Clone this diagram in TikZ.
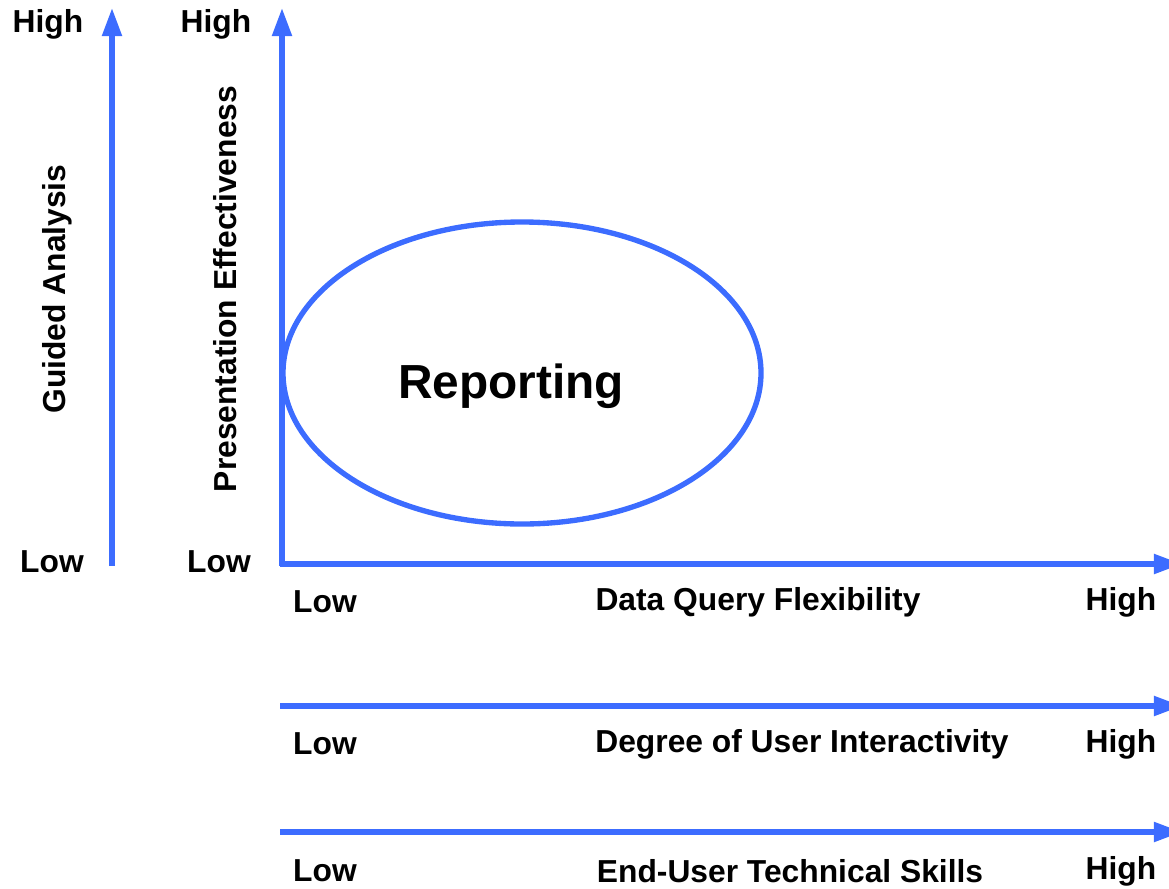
\documentclass[tikz,border=0pt]{standalone}
\usepackage{fontspec}
\setmainfont{Liberation Sans}
\usetikzlibrary{arrows.meta}
\definecolor{axisblue}{RGB}{60,108,255}

\begin{document}
\begin{tikzpicture}[x=0.025cm, y=-0.025cm,
        axis/.style={draw=axisblue, line width=3.8pt, -{Triangle[length=20pt,width=13.5pt]}},
        lbl/.style={inner sep=0pt, font=\fontsize{22.6}{26}\selectfont\bfseries},
        title/.style={inner sep=0pt, font=\fontsize{34}{40}\selectfont\bfseries}]
        \useasboundingbox (0,0) rectangle (1169,888);
        % vertical axes
        \coordinate (ga0) at (112,566);
        \coordinate (ga1) at (112,8);
        \coordinate (pe0) at (282,566);
        \coordinate (pe1) at (282,8);
        \draw [axis] (ga0) -- (ga1);
        \draw [axis] (pe0) -- (pe1);
        \node [lbl] (gahigh) at (48,24) {High};
        \node [lbl] (galow) at (52,562) {Low};
        \node [lbl] (pehigh) at (216,24) {High};
        \node [lbl] (pelow) at (219,562) {Low};
        \node [lbl, rotate=90] (ga) at (57,289) {Guided Analysis};
        \node [lbl, rotate=90] (pe) at (225,289) {Presentation Effectiveness};
        % horizontal axes
        \coordinate (dq0) at (280,564);
        \coordinate (dq1) at (1182,564);
        \coordinate (ui0) at (280,706);
        \coordinate (ui1) at (1182,706);
        \coordinate (ts0) at (280,832);
        \coordinate (ts1) at (1182,832);
        \draw [axis] (dq0) -- (dq1);
        \draw [axis] (ui0) -- (ui1);
        \draw [axis] (ts0) -- (ts1);
        \node [lbl] (dqlow) at (325,602) {Low};
        \node [lbl] (dq) at (758,602) {Data Query Flexibility};
        \node [lbl] (dqhigh) at (1121,602) {High};
        \node [lbl] (uilow) at (325,744) {Low};
        \node [lbl] (ui) at (802,744) {Degree of User Interactivity};
        \node [lbl] (uihigh) at (1121,744) {High};
        \node [lbl] (tslow) at (325,871) {Low};
        \node [lbl] (ts) at (790,871) {End-User Technical Skills};
        \node [lbl] (tshigh) at (1121,871) {High};
        % reporting
        \draw [axisblue, line width=3.8pt] (522,373) ellipse (239 and 151);
        \node [title] (rep) at (511,386) {Reporting};
\end{tikzpicture}
\end{document}
